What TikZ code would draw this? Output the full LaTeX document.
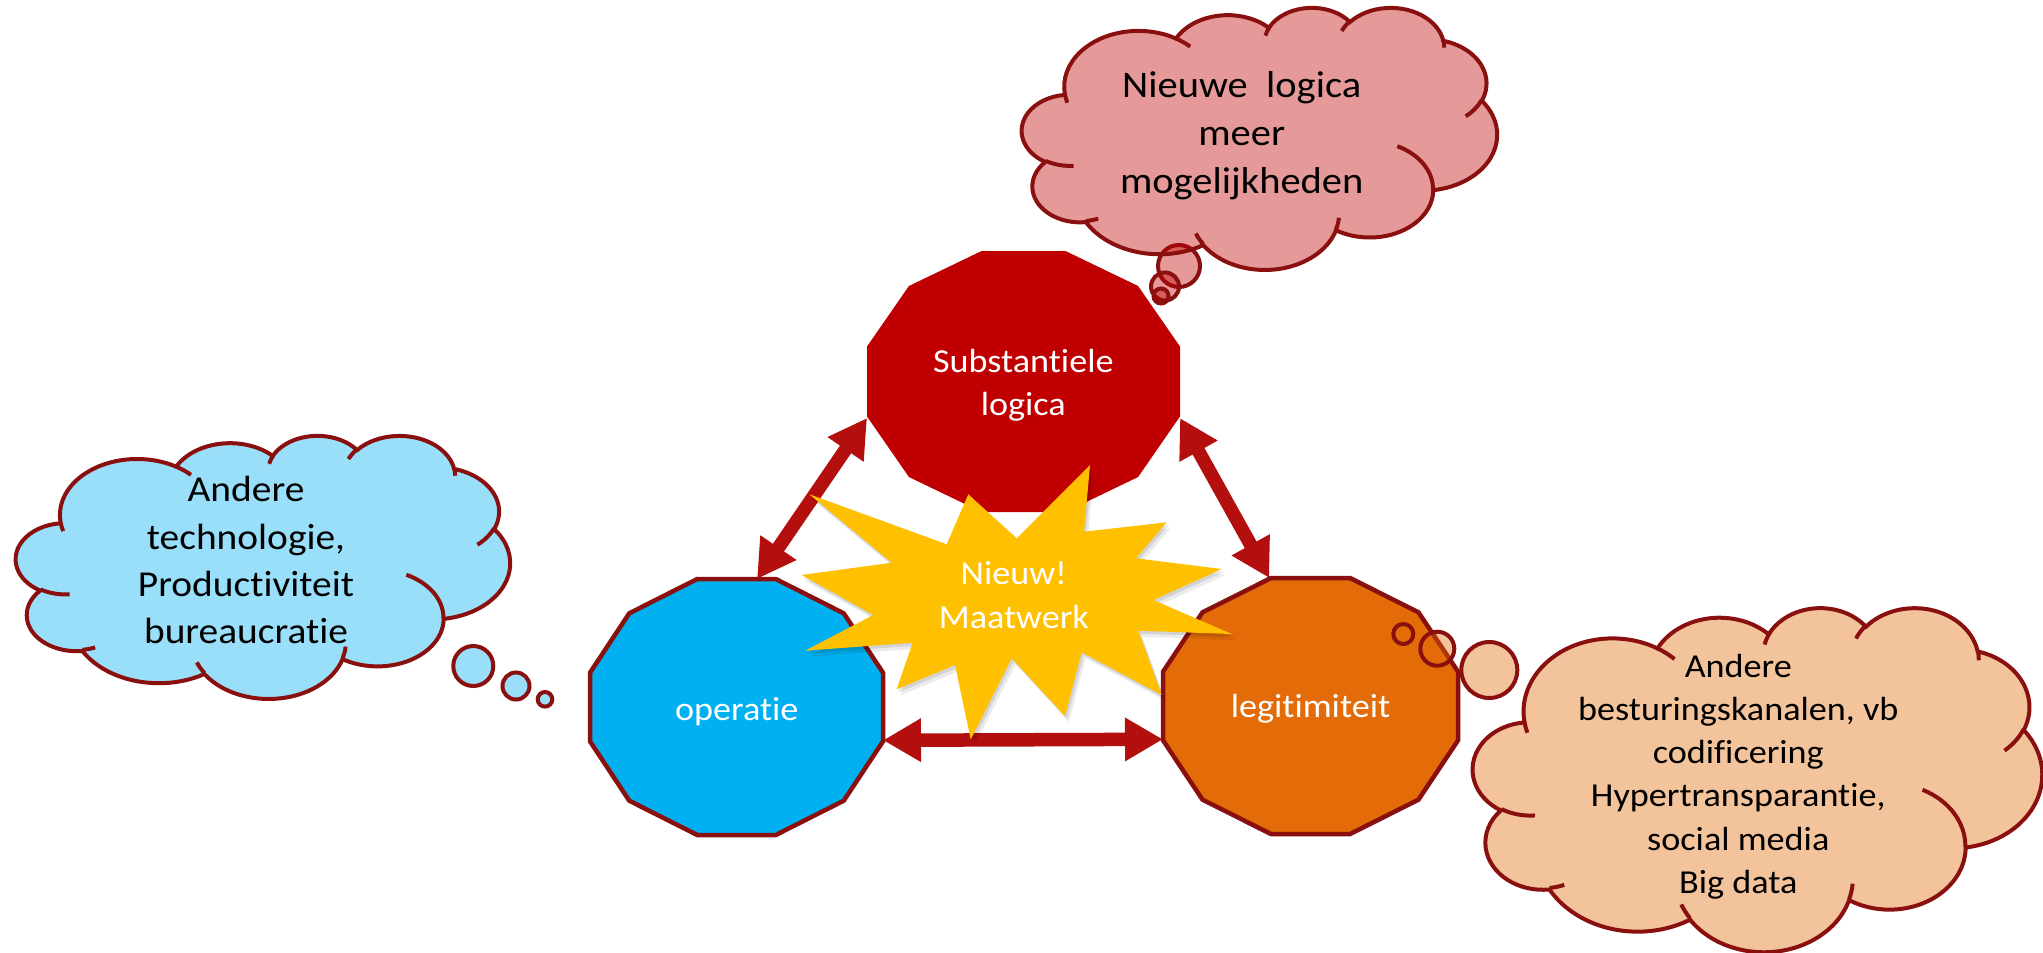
\documentclass[tikz,border=0pt]{standalone}
\usepackage{fontspec}
\setmainfont{Carlito}[FakeStretch=1.08, Ligatures=NoCommon]
\usetikzlibrary{arrows.meta,calc}
\definecolor{subred}{HTML}{C00000}
\definecolor{opblue}{HTML}{00B0F0}
\definecolor{legorange}{HTML}{E36C09}
\definecolor{staryellow}{HTML}{FFC000}
\definecolor{edgered}{HTML}{8A1010}
\definecolor{arrowred}{HTML}{B40F0F}

\makeatletter
\newcommand\cldang[5]{%
  \pgfmathparse{atan2((#2)*sin(#4),(#3)*cos(#4))}\let\cld@a\pgfmathresult
  \pgfmathparse{atan2((#2)*sin((#4)+(#5)),(#3)*cos((#4)+(#5)))}\let\cld@b\pgfmathresult
  \pgfmathparse{(\cld@b)-(\cld@a)}\let\cld@d\pgfmathresult
  \pgfmathparse{((\cld@d)-(#5)>180)?((\cld@d)-360):(((\cld@d)-(#5)<-180)?((\cld@d)+360):(\cld@d))}\let\cld@d\pgfmathresult
  \expandafter\xdef\csname cldS#1\endcsname{\cld@a}%
  \expandafter\xdef\csname cldD#1\endcsname{\cld@d}%
}
\makeatother
% outer cloud arcs
\cldang{a}{6.753}{9.190}{-190.4875}{123.7805}
\cldang{b}{5.333}{7.267}{-144.1024}{89.9452}
\cldang{c}{4.365}{5.945}{-145.8079}{99.7230}
\cldang{d}{4.857}{6.595}{-130.9861}{117.2417}
\cldang{e}{5.333}{7.273}{-78.7089}{109.0269}
\cldang{f}{6.775}{9.220}{-46.2673}{130.2690}
\cldang{g}{5.785}{7.867}{0.6250}{114.0333}
\cldang{h}{6.752}{9.215}{22.4516}{115.1726}
\cldang{i}{7.720}{10.543}{66.2426}{75.7110}
\cldang{j}{4.360}{5.918}{-274.9421}{146.7356}
\cldang{k}{4.345}{5.945}{-246.8285}{152.5189}
% inner cloud arcs
\cldang{m}{4.345}{5.945}{86.7420}{26.4295}
\cldang{n}{4.360}{5.918}{73.6105}{11.4475}
\cldang{o}{6.752}{9.215}{137.6242}{14.0811}
\cldang{p}{6.752}{9.215}{6.4533}{15.9984}
\cldang{q}{5.785}{7.867}{-70.2924}{70.9174}
\cldang{r}{5.333}{7.273}{30.3180}{27.7515}
\cldang{s}{4.857}{6.595}{-13.7443}{14.8589}
\cldang{t}{4.857}{6.595}{-149.1815}{18.1954}
\cldang{u}{4.365}{5.945}{-163.4943}{17.6864}
\cldang{v}{6.753}{9.190}{-66.7070}{12.3194}
\cldang{w}{6.753}{9.190}{157.6544}{11.8582}

\newcommand\cloudshape[5]{%
  \begin{scope}[shift={(#1,#2)}, xscale=#3/43.2, yscale=#4/43.2]
    \path[cloudline, fill=#5, fill opacity=0.4]
      (3.900,14.370)
      arc[x radius=6.753, y radius=9.190, start angle=\cldSa, delta angle=\cldDa]
      arc[x radius=5.333, y radius=7.267, start angle=\cldSb, delta angle=\cldDb]
      arc[x radius=4.365, y radius=5.945, start angle=\cldSc, delta angle=\cldDc]
      arc[x radius=4.857, y radius=6.595, start angle=\cldSd, delta angle=\cldDd]
      arc[x radius=5.333, y radius=7.273, start angle=\cldSe, delta angle=\cldDe]
      arc[x radius=6.775, y radius=9.220, start angle=\cldSf, delta angle=\cldDf]
      arc[x radius=5.785, y radius=7.867, start angle=\cldSg, delta angle=\cldDg]
      arc[x radius=6.752, y radius=9.215, start angle=\cldSh, delta angle=\cldDh]
      arc[x radius=7.720, y radius=10.543, start angle=\cldSi, delta angle=\cldDi]
      arc[x radius=4.360, y radius=5.918, start angle=\cldSj, delta angle=\cldDj]
      arc[x radius=4.345, y radius=5.945, start angle=\cldSk, delta angle=\cldDk]
      -- cycle;
    \path[cloudline]
      (4.693,26.177) arc[x radius=4.345, y radius=5.945, start angle=\cldSm, delta angle=\cldDm]
      (6.928,34.899) arc[x radius=4.360, y radius=5.918, start angle=\cldSn, delta angle=\cldDn]
      (16.478,39.090) arc[x radius=6.752, y radius=9.215, start angle=\cldSo, delta angle=\cldDo]
      (28.827,34.751) arc[x radius=6.752, y radius=9.215, start angle=\cldSp, delta angle=\cldDp]
      (34.129,22.954) arc[x radius=5.785, y radius=7.867, start angle=\cldSq, delta angle=\cldDq]
      (41.798,15.354) arc[x radius=5.333, y radius=7.273, start angle=\cldSr, delta angle=\cldDr]
      (38.324,5.426) arc[x radius=4.857, y radius=6.595, start angle=\cldSs, delta angle=\cldDs]
      (29.078,3.952) arc[x radius=4.857, y radius=6.595, start angle=\cldSt, delta angle=\cldDt]
      (22.141,4.720) arc[x radius=4.365, y radius=5.945, start angle=\cldSu, delta angle=\cldDu]
      (14.000,5.192) arc[x radius=6.753, y radius=9.190, start angle=\cldSv, delta angle=\cldDv]
      (4.127,15.789) arc[x radius=6.753, y radius=9.190, start angle=\cldSw, delta angle=\cldDw];
  \end{scope}}

\newcommand\dodecshape[5]{%
  \path[#5, shift={(#1,#2)}, xscale=#3/2, yscale=#4/2]
    (-0.268,-1) -- (0.268,-1) -- (0.732,-0.732) -- (1,-0.268) -- (1,0.268)
    -- (0.732,0.732) -- (0.268,1) -- (-0.268,1) -- (-0.732,0.732) -- (-1,0.268)
    -- (-1,-0.268) -- (-0.732,-0.732) -- cycle;}

\newcommand\starpts{(809.3,494.3) -- (946.7,544.3) -- (968.3,494.3) -- (1016.7,538.3)
  -- (1090,465) -- (1084,531.7) -- (1166.7,522.3) -- (1136,558.3) -- (1221.7,569)
  -- (1153.3,600) -- (1231.7,634) -- (1138.3,630.7) -- (1161.7,695) -- (1081.7,652.3)
  -- (1065,716) -- (1011.7,658.3) -- (970.7,739.3) -- (955,665) -- (896.7,689.3)
  -- (912.7,642.7) -- (805,650.7) -- (873.3,615) -- (801.7,575) -- (891.7,562.7) -- cycle}

\begin{document}
\begin{tikzpicture}[x=1pt, y=-1pt,
  cloudline/.style={draw=edgered, line width=4pt},
  bubble/.style={draw=edgered, line width=4pt, fill=#1, fill opacity=0.4},
  dodecbox/.style={shape=rectangle, draw=none, inner sep=0pt, outer sep=0pt},
  nodetext/.style={text=white, align=center, inner sep=0pt, font=\fontsize{33.5}{43.3}\selectfont},
  cloudtext/.style={text=black, align=center, inner sep=0pt},
  dblarrow/.style={draw=arrowred, line width=13.5pt,
    arrows={Triangle[length=38pt,width=41pt]-Triangle[length=38pt,width=41pt]}}]
\useasboundingbox (0,0) rectangle (2043,953);
\fill[white] (0,0) rectangle (2043,953);

% dodecagons
\dodecshape{1023.5}{381.5}{313}{261}{fill=subred}
\dodecshape{736.5}{707}{293}{256}{fill=opblue, draw=edgered, line width=4.5pt}
\dodecshape{1310.5}{706}{295}{256}{fill=legorange, draw=edgered, line width=4.5pt}
\node[dodecbox, minimum width=313pt, minimum height=261pt] (sub) at (1023.5,381.5) {};
\node[dodecbox, minimum width=293pt, minimum height=256pt] (op) at (736.5,707) {};
\node[dodecbox, minimum width=295pt, minimum height=256pt] (leg) at (1310.5,706) {};
\node[nodetext] (subtext) at (1023.3,385) {Substantiele\\logica};
\node[nodetext] (optext) at (736.7,712) {operatie};
\node[nodetext] (legtext) at (1310.5,708.5) {legitimiteit};

% arrows
\draw[dblarrow] ($(sub.north west)!0.64!(sub.south west)$) -- ($(op.north west)!0.57!(op.north east)$);
\draw[dblarrow] ($(sub.north east)!0.64!(sub.south east)$) -- ($(leg.north west)!0.36!(leg.north east)$);
\draw[dblarrow] ($(op.north east)!0.63!(op.south east)$) -- ($(leg.north west)!0.63!(leg.south west)$);

% star
\fill[black, opacity=0.10, shift={(2,3)}] \starpts;
\fill[black, opacity=0.08, shift={(4,6)}] \starpts;
\fill[staryellow] \starpts;
\node[nodetext] (star) at (1013.8,595) {Nieuw!\\Maatwerk};

% left cloud
\draw[bubble=opblue] (473.3,666) circle[radius=20];
\draw[bubble=opblue] (516,686) circle[radius=13.5];
\draw[bubble=opblue] (545,699.3) circle[radius=7.3];
\cloudshape{16}{435}{494}{263}{opblue}
\node[cloudtext, font=\fontsize{36.5}{47.4}\selectfont] (techcloud) at (246,560.2)
  {Andere\\technologie,\\Productiviteit\\bureaucratie};

% top cloud
\draw[bubble=subred] (1179,266) circle[radius=21];
\draw[bubble=subred] (1165,286.5) circle[radius=14];
\draw[bubble=subred] (1161,296) circle[radius=7.5];
\cloudshape{1022}{7}{475}{262}{subred}
\node[cloudtext, font=\fontsize{37.5}{48}\selectfont] (logiccloud) at (1241.7,135.3)
  {Nieuwe\ \ logica\\meer\\mogelijkheden};

% right cloud
\draw[bubble=legorange] (1403.3,634) circle[radius=10];
\draw[bubble=legorange] (1437.3,648.7) circle[radius=17];
\draw[bubble=legorange] (1489.3,670) circle[radius=28];
\cloudshape{1473}{607}{569}{344}{legorange}
\node[cloudtext, font=\fontsize{33.5}{43.3}\selectfont] (legcloud) at (1738.3,776.5)
  {Andere\\besturingskanalen, vb\\codificering\\Hypertransparantie,\\social media\\Big data};
\end{tikzpicture}
\end{document}
